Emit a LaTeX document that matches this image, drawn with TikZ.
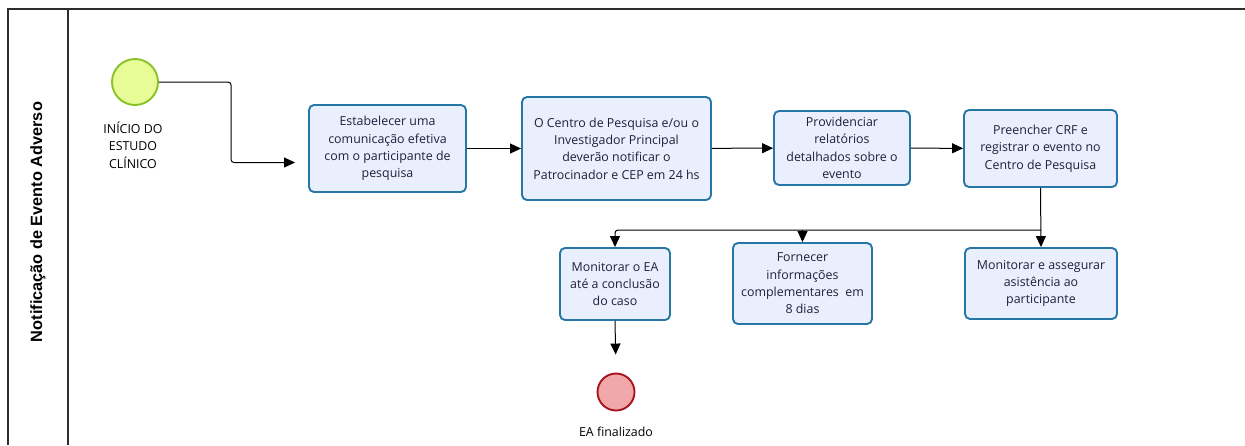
\documentclass[tikz,border=0pt]{standalone}
\usepackage{fontspec}
\setmainfont{Open Sans}
\newfontfamily\lanefont{Liberation Sans}
\usetikzlibrary{arrows.meta}
\definecolor{taskfill}{RGB}{233,239,252}
\definecolor{taskline}{RGB}{38,118,166}
\definecolor{tasktext}{RGB}{35,30,60}
\definecolor{startfill}{RGB}{231,252,150}
\definecolor{startline}{RGB}{135,195,40}
\definecolor{endfill}{RGB}{240,168,170}
\definecolor{endline}{RGB}{165,20,25}
\definecolor{laneline}{RGB}{45,45,45}

\begin{document}
\begin{tikzpicture}[x=1pt,y=-1pt,
	task/.style={draw=taskline, fill=taskfill, line width=1.9pt, rounded corners=5pt,
		align=center, inner sep=2pt, text=tasktext, font=\fontsize{12.4}{17.4}\selectfont},
	event/.style={circle, line width=1.9pt, inner sep=0pt},
	evtext/.style={align=center, font=\fontsize{12.4}{17.4}\selectfont},
	flow/.style={-{Triangle[length=11pt,width=10pt]}, line width=1pt, rounded corners=3pt}]
	\useasboundingbox (0,0) rectangle (1245,445);
	%pool and lane
	\draw[laneline, line width=1.2pt] (8,445) -- (8,9) -- (1245,9);
	\draw[laneline, line width=1.2pt] (68,9) -- (68,445);
	\node[rotate=90, font=\lanefont\bfseries\fontsize{16.3}{18}\selectfont] (lane) at (38,222) {Notificação de Evento Adverso};
	%start event
	\node[event, draw=startline, fill=startfill, minimum size=46pt] (inicio) at (135,82) {};
	\node[evtext] (inicioTxt) at (133,145) {INÍCIO DO\\ESTUDO\\CLÍNICO};
	%upper row
	\node[task, minimum width=157pt, minimum height=87pt] (comunicar) at (387.5,148.5) {Estabelecer uma\\comunicação efetiva\\com o participante de\\pesquisa};
	\node[task, minimum width=189pt, minimum height=103pt] (notificar) at (616.5,148.5) {O Centro de Pesquisa e/ou o\\Investigador Principal\\deverão notificar o\\Patrocinador e CEP em 24 hs};
	\node[task, minimum width=136pt, minimum height=74pt] (relatorios) at (842,148) {Providenciar\\relatórios\\detalhados sobre o\\evento};
	\node[task, minimum width=153pt, minimum height=77pt] (crf) at (1040.5,148.5) {Preencher CRF e\\registrar o evento no\\Centro de Pesquisa};
	%lower row
	\node[task, minimum width=110pt, minimum height=72pt] (monitEA) at (615,284) {Monitorar o EA\\até a conclusão\\do caso};
	\node[task, minimum width=139pt, minimum height=81pt] (info) at (802.5,283.5) {Fornecer\\informações\\complementares~ em\\8 dias};
	\node[task, minimum width=152pt, minimum height=71pt] (assist) at (1041,283.5) {Monitorar e assegurar\\asistência ao\\participante};
	%end event
	\node[event, draw=endline, fill=endfill, minimum size=37pt] (fim) at (616,392) {};
	\node[evtext] (fimTxt) at (616,432) {EA finalizado};
	%flows
	\draw[flow, shorten >=13pt] (inicio.east) -- (231,82) |- ([yshift=-14pt]comunicar.west);
	\draw[flow] (comunicar) -- (notificar);
	\draw[flow] (notificar) -- (relatorios);
	\draw[flow] (relatorios) -- (crf);
	\coordinate (split) at (1041,230);
	\draw[flow] (crf.south) -- (assist.north);
	\draw[flow] (split) -| (monitEA.north);
	\draw[flow] (split -| info.north) -- (info.north);
	\draw[flow, shorten >=18pt] (monitEA.south) -- (fim.north);
\end{tikzpicture}
\end{document}
